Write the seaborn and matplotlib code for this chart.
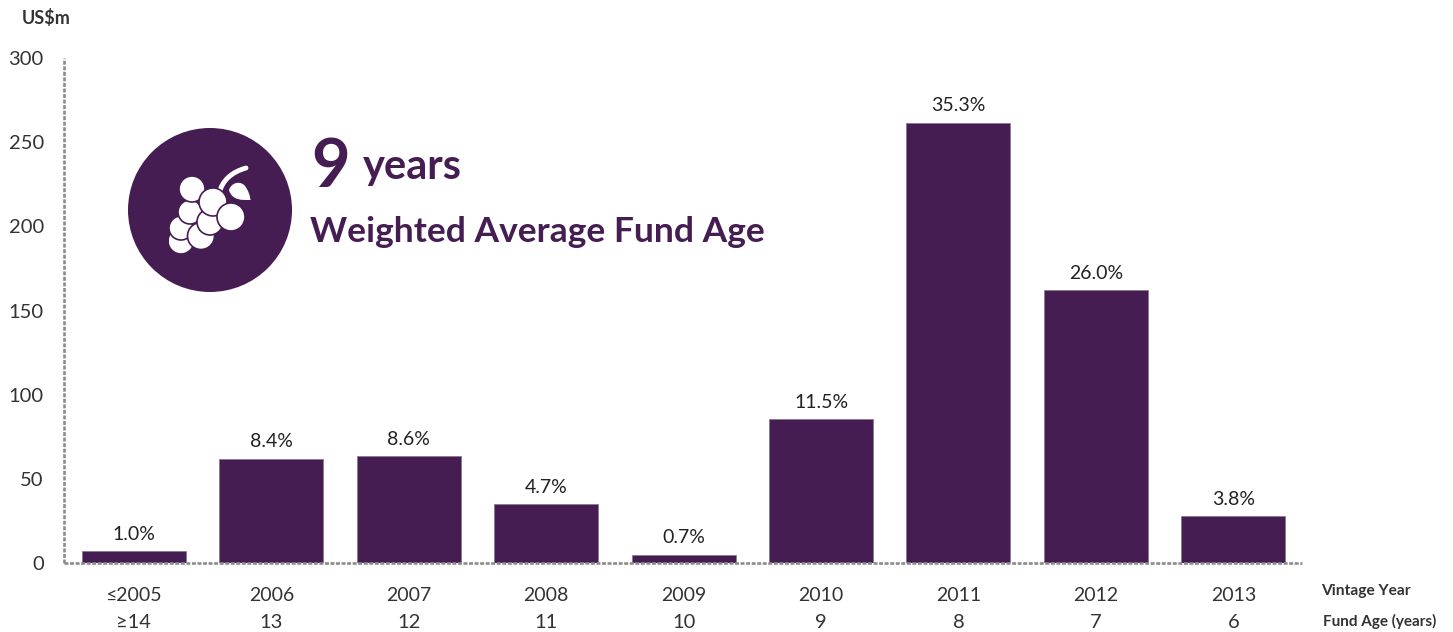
import matplotlib
matplotlib.use("Agg")
import matplotlib.pyplot as plt
from matplotlib.patches import Circle, PathPatch, Rectangle
from matplotlib.path import Path
import seaborn as sns
import pandas as pd

vintage_years = ["≤2005", "2006", "2007", "2008", "2009", "2010", "2011", "2012", "2013"]
fund_ages = ["≥14", "13", "12", "11", "10", "9", "8", "7", "6"]
amounts = [7, 62, 63.5, 35, 5, 85.5, 261.5, 162, 28]
shares = ["1.0%", "8.4%", "8.6%", "4.7%", "0.7%", "11.5%", "35.3%", "26.0%", "3.8%"]
y_ticks = [0, 50, 100, 150, 200, 250, 300]

PURPLE = "#451d52"
W, H = 1453, 632

sns.set_theme(style="white")
plt.rcParams["font.family"] = ["Lato", "DejaVu Sans"]

fig = plt.figure(figsize=(W / 100, H / 100), dpi=100)
ax = fig.add_axes([64 / W, 1 - 563 / H, (1302 - 64) / W, 505 / H])

df = pd.DataFrame({"year": vintage_years, "amount": amounts})
sns.barplot(data=df, x="year", y="amount", color=PURPLE, saturation=1, width=0.757, ax=ax,
            edgecolor="#8a7a90", linewidth=0.6, zorder=3)
ax.set_xlim(-0.509, 8.5)
ax.set_ylim(0, 300)
ax.set_xlabel("")
ax.set_ylabel("")
ax.set_yticks(y_ticks)
ax.tick_params(axis="y", length=4.5, width=1.5, color="#8c8c8c", pad=10, labelsize=14.5, labelcolor="#333333")
ax.tick_params(axis="x", length=0, pad=17, labelsize=14, labelcolor="#333333")
sns.despine(ax=ax)
for side in ["left", "bottom"]:
    ax.spines[side].set_color("#8c8c8c")
    ax.spines[side].set_linewidth(1.9)
    ax.spines[side].set_linestyle((0, (1.5, 0.6)))
    ax.spines[side].set_capstyle("butt")
    ax.spines[side].set_zorder(4)

ax.bar_label(ax.containers[0], labels=shares, padding=6, fontsize=14, color="#222222")

for i, age in enumerate(fund_ages):
    ax.annotate(age, (i, 0), xycoords=("data", "data"), xytext=(0, -59 * 0.72), textcoords="offset points",
                ha="center", va="center", fontsize=14.5, color="#333333")

# page overlay in pixel coordinates for the texts and the icon
ov = fig.add_axes([0, 0, 1, 1], facecolor="none")
ov.set_xlim(0, W)
ov.set_ylim(H, 0)
ov.axis("off")

ov.text(22, 18, "US$m", fontsize=13, fontweight="bold", color="#333333", va="center")
ov.text(1321, 591, "Vintage Year", fontsize=11.2, fontweight="bold", color="#333333", va="center")
ov.text(1323, 621, "Fund Age (years)", fontsize=11, fontweight="bold", color="#333333", va="center")
ov.text(311, 168, "9", fontsize=48, fontweight="bold", color=PURPLE, va="center")
ov.text(363, 167, "years", fontsize=30, fontweight="bold", color=PURPLE, va="center")
ov.text(310, 232, "Weighted Average Fund Age", fontsize=25.5, fontweight="bold", color=PURPLE, va="center")

# grape icon
ov.add_patch(Circle((210, 210), 82, fc=PURPLE, ec="none"))
clip = Rectangle((169, 150), 90, 110, transform=ov.transData)
stem = Path([(219, 194), (222, 180), (232, 172), (246, 168)], [Path.MOVETO, Path.CURVE4, Path.CURVE4, Path.CURVE4])
ov.add_patch(PathPatch(stem, fc="none", ec="white", lw=3.5, capstyle="round"))
leaf = Path([(229, 190), (231, 183), (240, 180), (245, 186), (248, 190), (250, 195), (250.5, 200),
             (243, 200), (232, 201), (229, 190)],
            [Path.MOVETO] + [Path.CURVE4] * 9)
ov.add_patch(PathPatch(leaf, fc="white", ec="none"))
grapes = [(181, 241, 13), (181, 228, 12), (190, 212, 12), (192, 189, 13), (201, 236, 13.5),
          (210, 222, 13), (213, 202, 14), (231, 217, 14)]
for x, y, r in grapes:
    c = Circle((x, y), r, fc="white", ec=PURPLE, lw=1.2)
    ov.add_patch(c)
    c.set_clip_path(clip)

fig.savefig("out.png", dpi=100)
